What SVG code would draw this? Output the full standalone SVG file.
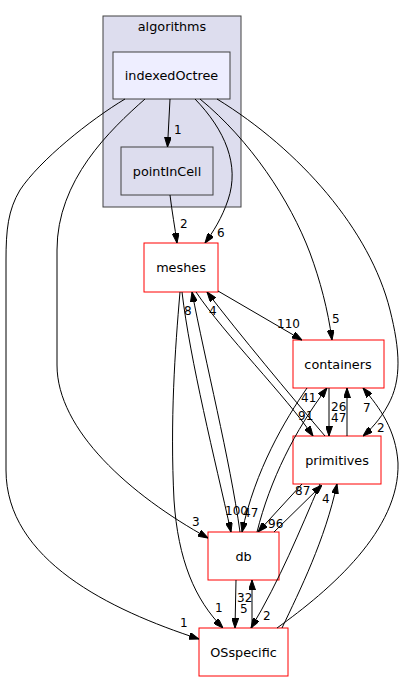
<svg xmlns="http://www.w3.org/2000/svg" width="406" height="681" viewBox="0 0 406 681">
<style>
text{font-family:"DejaVu Sans","Liberation Sans",sans-serif;fill:#000}
.n{font-size:12.8px;text-anchor:middle}
.l{font-size:12px}
.e{fill:none;stroke:#000;stroke-width:1;marker-end:url(#ah)}
.dir{fill:#fff;stroke:#ff0000;stroke-width:1}
</style>
<defs>
<marker id="ah" viewBox="0 0 10 7" refX="10" refY="3.5" markerWidth="10" markerHeight="7" markerUnits="userSpaceOnUse" orient="auto">
<path d="M0,0 L10,3.5 L0,7 z" fill="#000" stroke="#000"/>
</marker>
</defs>
<rect width="406" height="681" fill="#fff"/>
<g id="cluster_algorithms">
<rect x="103" y="16" width="138" height="191" fill="#ddddee" stroke="#404040"/>
<text class="n" x="172" y="31">algorithms</text>
</g>
<g id="indexedOctree">
<rect x="113" y="52" width="117" height="47" fill="#eeeeff" stroke="#404040"/>
<text class="n" x="171.5" y="80">indexedOctree</text>
</g>
<g id="pointInCell">
<rect x="121" y="147" width="92" height="48" fill="#ddddee" stroke="#404040"/>
<text class="n" x="167" y="176">pointInCell</text>
</g>
<g id="meshes">
<rect class="dir" x="144" y="243" width="74" height="49"/>
<text class="n" x="181" y="272">meshes</text>
</g>
<g id="containers">
<rect class="dir" x="293" y="340" width="91" height="48"/>
<text class="n" x="338" y="368.5">containers</text>
</g>
<g id="primitives">
<rect class="dir" x="293" y="436" width="88" height="48"/>
<text class="n" x="337" y="464.5">primitives</text>
</g>
<g id="db">
<rect class="dir" x="208" y="532" width="71" height="48"/>
<text class="n" x="243.5" y="560.5">db</text>
</g>
<g id="OSspecific">
<rect class="dir" x="199" y="628" width="89" height="48"/>
<text class="n" x="243.5" y="656.5">OSspecific</text>
</g>
<g id="edges">
<path class="e" d="M170,99 L167.5,147"/>
<text class="l" x="174" y="134">1</text>
<path class="e" d="M170,195 C172,212 175,228 177,243"/>
<text class="l" x="180" y="228">2</text>
<path class="e" d="M195,99 C225,130 240,165 228,200 C222,218 213,232 205,243"/>
<text class="l" x="217" y="237">6</text>
<path class="e" d="M200,99 C250,140 290,200 310,253 C320,280 328,310 332,340"/>
<text class="l" x="332" y="323">5</text>
<path class="e" d="M217,99 C300,150 370,230 390,310 C400,350 402,380 388,405 C380,420 370,430 363,436"/>
<text class="l" x="377" y="432">2</text>
<path class="e" d="M145,99 C110,130 57,180 57,250 L57,365 C57,430 130,495 208,538"/>
<text class="l" x="192" y="526">3</text>
<path class="e" d="M125,99 C90,120 40,160 20,190 C8,210 6,230 6,260 L6,470 C6,560 110,610 199,639"/>
<text class="l" x="180" y="627">1</text>
<path class="e" d="M218,291 L302,340"/>
<text class="l" x="277" y="328">110</text>
<path class="e" d="M196,292 C225,335 285,395 313,436"/>
<text class="l" x="298" y="420">91</text>
<path class="e" d="M325,436 C290,395 240,335 207,292"/>
<text class="l" x="209" y="315">4</text>
<path class="e" d="M182,292 C190,360 215,460 231,532"/>
<text class="l" x="225" y="515">100</text>
<path class="e" d="M240,532 C230,460 205,360 192,292"/>
<text class="l" x="184" y="315">8</text>
<path class="e" d="M180,292 C175,350 170,420 174,500 C178,560 195,600 223,628"/>
<text class="l" x="215" y="612">1</text>
<path class="e" d="M307,388 C285,420 255,470 242,532"/>
<text class="l" x="243" y="517">47</text>
<path class="e" d="M257,532 C270,480 295,430 327,388"/>
<text class="l" x="301" y="402">41</text>
<path class="e" d="M329,388 L329,436"/>
<text class="l" x="331" y="422">47</text>
<path class="e" d="M347,436 L347,388"/>
<text class="l" x="331" y="411">26</text>
<path class="e" d="M277,628 C330,590 400,530 398,463 C396,430 380,408 363,388"/>
<text class="l" x="363" y="412">7</text>
<path class="e" d="M274,532 L322,485"/>
<text class="l" x="295" y="495">87</text>
<path class="e" d="M302,484 L258,532"/>
<text class="l" x="268" y="528">96</text>
<path class="e" d="M236,580 L235,628"/>
<text class="l" x="240" y="613">5</text>
<path class="e" d="M252,628 L252,580"/>
<text class="l" x="237" y="602">32</text>
<path class="e" d="M320,484 C300,530 280,580 251,628"/>
<text class="l" x="263" y="620">2</text>
<path class="e" d="M282,628 C300,590 325,540 337,484"/>
<text class="l" x="322" y="503">4</text>
</g>
</svg>
